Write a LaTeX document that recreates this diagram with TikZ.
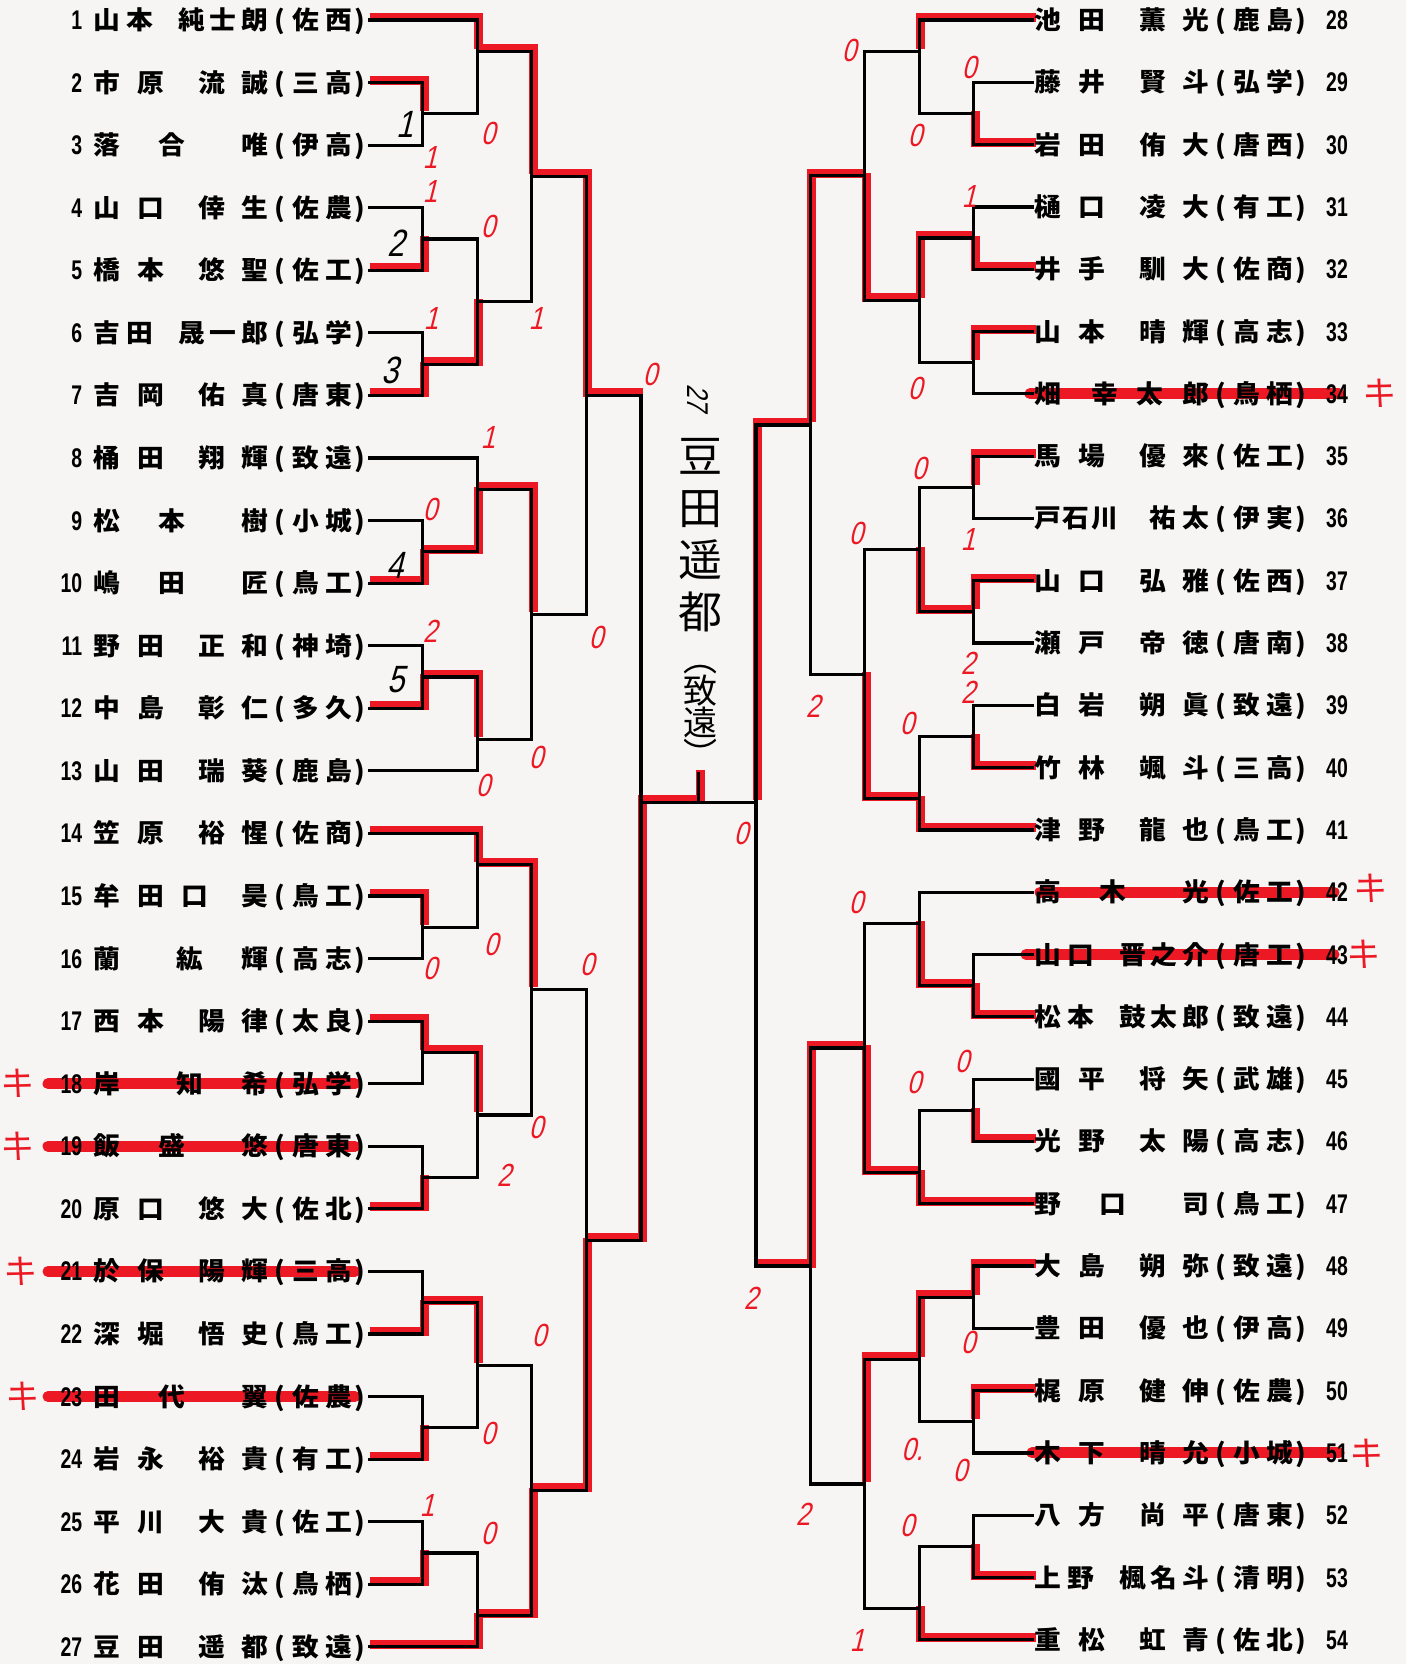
\documentclass[tikz,border=0pt]{standalone}
\usepackage{fontspec}
\newfontfamily\jp{Noto Sans CJK JP}[FakeStretch=1.05]
\newfontfamily\chiffre{Liberation Sans}[FakeStretch=0.72]
\newfontfamily\manus{Liberation Sans}[FakeSlant=0.25,FakeStretch=0.8]
\newfontfamily\manusjp{Noto Sans CJK JP}
\definecolor{feutre}{RGB}{236,24,36}
\definecolor{papier}{RGB}{246,245,243}
\pgfdeclarelayer{dessous}
\pgfdeclarelayer{surligne}
\pgfsetlayers{dessous,surligne,main}
% caracteres etales dans une boite
\def\etale#1{\etaleA#1\relax}
\def\etaleA#1{#1\etaleB}
\def\etaleB#1{\ifx\relax#1\else\hfil#1\expandafter\etaleB\fi}
% nom, prenom, ecole
\newcommand\nm[5]{\makebox[175pt][s]{\makebox[#1pt][s]{\etale{#3}}\hfil\makebox[#2pt][s]{\etale{#4}}}\makebox[24pt]{(}\makebox[60pt][s]{\etale{#5}}\makebox[16pt]{)}}
\newcommand\nmBB{\nm{71}{70}}
\newcommand\nmBC{\nm{60}{90}}
\newcommand\nmBA{\nm{92}{27}}
\newcommand\nmAB{\nm{27}{92}}
\newcommand\nmCA{\nm{115}{27}}
\newcommand\nmAC{\nm{27}{118}}
\newcommand\nmCB{\nm{84}{60}}
\newcommand\numG[1]{\llap{\chiffre\bfseries\fontsize{27}{27}\selectfont#1\hspace{11pt}}}
\newcommand\numD[1]{\rlap{\hspace{17pt}\chiffre\bfseries\fontsize{27}{27}\selectfont#1}}
\begin{document}
\begin{tikzpicture}[x=1pt,y=-1pt]
% Styles
\tikzstyle{joueur}=[anchor=west,inner sep=0pt,font=\jp\bfseries\fontsize{25.5}{25.5}\selectfont,text height=22pt,text depth=3pt]
\tikzstyle{trait}=[draw=black,line width=3.2pt]
\tikzstyle{gagnant}=[draw=feutre,line width=9pt,transform canvas={xshift=1.5pt,yshift=2.5pt}]
\tikzstyle{rature}=[draw=feutre,line width=11pt,line cap=round]
\tikzstyle{score}=[text=feutre,inner sep=0pt,font=\manus\fontsize{32}{32}\selectfont]
\tikzstyle{tour}=[inner sep=0pt,font=\manus\fontsize{38}{38}\selectfont]
\tikzstyle{croix}=[text=feutre,inner sep=0pt,font=\manusjp\fontsize{34}{34}\selectfont,rotate=-8]
\tikzstyle{vainqueur}=[inner sep=0pt,align=center,font=\manusjp\fontsize{44}{52}\selectfont]
% Dimensions
\def\NomG{93}
\def\NomD{1034}
\def\XG#1{(368+(#1)*54.6)}
\def\XD#1{(1028-(#1)*54.4)}
\def\YG#1{(20+((#1)-1)*62.57)}
\def\YD#1{(20+((#1)-28)*62.3)}
\useasboundingbox (0,0) rectangle (1406,1664);
\begin{pgfonlayer}{dessous}
\fill[papier] (0,0) rectangle (1406,1664);
\end{pgfonlayer}
% Joueurs gauche
\node[joueur] (J1) at (\NomG,{\YG{1}}) {\numG{1}\nmBC{山本}{純士朗}{佐西}};
\node[joueur] (J2) at (\NomG,{\YG{2}}) {\numG{2}\nmBB{市原}{流誠}{三高}};
\node[joueur] (J3) at (\NomG,{\YG{3}}) {\numG{3}\nmBA{落合}{唯}{伊高}};
\node[joueur] (J4) at (\NomG,{\YG{4}}) {\numG{4}\nmBB{山口}{倖生}{佐農}};
\node[joueur] (J5) at (\NomG,{\YG{5}}) {\numG{5}\nmBB{橋本}{悠聖}{佐工}};
\node[joueur] (J6) at (\NomG,{\YG{6}}) {\numG{6}\nmBC{吉田}{晟一郎}{弘学}};
\node[joueur] (J7) at (\NomG,{\YG{7}}) {\numG{7}\nmBB{吉岡}{佑真}{唐東}};
\node[joueur] (J8) at (\NomG,{\YG{8}}) {\numG{8}\nmBB{桶田}{翔輝}{致遠}};
\node[joueur] (J9) at (\NomG,{\YG{9}}) {\numG{9}\nmBA{松本}{樹}{小城}};
\node[joueur] (J10) at (\NomG,{\YG{10}}) {\numG{10}\nmBA{嶋田}{匠}{鳥工}};
\node[joueur] (J11) at (\NomG,{\YG{11}}) {\numG{11}\nmBB{野田}{正和}{神埼}};
\node[joueur] (J12) at (\NomG,{\YG{12}}) {\numG{12}\nmBB{中島}{彰仁}{多久}};
\node[joueur] (J13) at (\NomG,{\YG{13}}) {\numG{13}\nmBB{山田}{瑞葵}{鹿島}};
\node[joueur] (J14) at (\NomG,{\YG{14}}) {\numG{14}\nmBB{笠原}{裕惺}{佐商}};
\node[joueur] (J15) at (\NomG,{\YG{15}}) {\numG{15}\nmCA{牟田口}{昊}{鳥工}};
\node[joueur] (J16) at (\NomG,{\YG{16}}) {\numG{16}\nmAB{蘭}{紘輝}{高志}};
\node[joueur] (J17) at (\NomG,{\YG{17}}) {\numG{17}\nmBB{西本}{陽律}{太良}};
\node[joueur] (J18) at (\NomG,{\YG{18}}) {\numG{18}\nmAB{岸}{知希}{弘学}};
\node[joueur] (J19) at (\NomG,{\YG{19}}) {\numG{19}\nmBA{飯盛}{悠}{唐東}};
\node[joueur] (J20) at (\NomG,{\YG{20}}) {\numG{20}\nmBB{原口}{悠大}{佐北}};
\node[joueur] (J21) at (\NomG,{\YG{21}}) {\numG{21}\nmBB{於保}{陽輝}{三高}};
\node[joueur] (J22) at (\NomG,{\YG{22}}) {\numG{22}\nmBB{深堀}{悟史}{鳥工}};
\node[joueur] (J23) at (\NomG,{\YG{23}}) {\numG{23}\nmBA{田代}{翼}{佐農}};
\node[joueur] (J24) at (\NomG,{\YG{24}}) {\numG{24}\nmBB{岩永}{裕貴}{有工}};
\node[joueur] (J25) at (\NomG,{\YG{25}}) {\numG{25}\nmBB{平川}{大貴}{佐工}};
\node[joueur] (J26) at (\NomG,{\YG{26}}) {\numG{26}\nmBB{花田}{侑汰}{鳥栖}};
\node[joueur] (J27) at (\NomG,{\YG{27}}) {\numG{27}\nmBB{豆田}{遥都}{致遠}};
% Joueurs droite
\node[joueur] (J28) at (\NomD,{\YD{28}}) {\nmBB{池田}{薫光}{鹿島}\numD{28}};
\node[joueur] (J29) at (\NomD,{\YD{29}}) {\nmBB{藤井}{賢斗}{弘学}\numD{29}};
\node[joueur] (J30) at (\NomD,{\YD{30}}) {\nmBB{岩田}{侑大}{唐西}\numD{30}};
\node[joueur] (J31) at (\NomD,{\YD{31}}) {\nmBB{樋口}{凌大}{有工}\numD{31}};
\node[joueur] (J32) at (\NomD,{\YD{32}}) {\nmBB{井手}{馴大}{佐商}\numD{32}};
\node[joueur] (J33) at (\NomD,{\YD{33}}) {\nmBB{山本}{晴輝}{高志}\numD{33}};
\node[joueur] (J34) at (\NomD,{\YD{34}}) {\nmAC{畑}{幸太郎}{鳥栖}\numD{34}};
\node[joueur] (J35) at (\NomD,{\YD{35}}) {\nmBB{馬場}{優來}{佐工}\numD{35}};
\node[joueur] (J36) at (\NomD,{\YD{36}}) {\nmCB{戸石川}{祐太}{伊実}\numD{36}};
\node[joueur] (J37) at (\NomD,{\YD{37}}) {\nmBB{山口}{弘雅}{佐西}\numD{37}};
\node[joueur] (J38) at (\NomD,{\YD{38}}) {\nmBB{瀬戸}{帝徳}{唐南}\numD{38}};
\node[joueur] (J39) at (\NomD,{\YD{39}}) {\nmBB{白岩}{朔眞}{致遠}\numD{39}};
\node[joueur] (J40) at (\NomD,{\YD{40}}) {\nmBB{竹林}{颯斗}{三高}\numD{40}};
\node[joueur] (J41) at (\NomD,{\YD{41}}) {\nmBB{津野}{龍也}{鳥工}\numD{41}};
\node[joueur] (J42) at (\NomD,{\YD{42}}) {\nmBA{高木}{光}{佐工}\numD{42}};
\node[joueur] (J43) at (\NomD,{\YD{43}}) {\nmBC{山口}{晋之介}{唐工}\numD{43}};
\node[joueur] (J44) at (\NomD,{\YD{44}}) {\nmBC{松本}{鼓太郎}{致遠}\numD{44}};
\node[joueur] (J45) at (\NomD,{\YD{45}}) {\nmBB{國平}{将矢}{武雄}\numD{45}};
\node[joueur] (J46) at (\NomD,{\YD{46}}) {\nmBB{光野}{太陽}{高志}\numD{46}};
\node[joueur] (J47) at (\NomD,{\YD{47}}) {\nmBA{野口}{司}{鳥工}\numD{47}};
\node[joueur] (J48) at (\NomD,{\YD{48}}) {\nmBB{大島}{朔弥}{致遠}\numD{48}};
\node[joueur] (J49) at (\NomD,{\YD{49}}) {\nmBB{豊田}{優也}{伊高}\numD{49}};
\node[joueur] (J50) at (\NomD,{\YD{50}}) {\nmBB{梶原}{健伸}{佐農}\numD{50}};
\node[joueur] (J51) at (\NomD,{\YD{51}}) {\nmBB{木下}{晴允}{小城}\numD{51}};
\node[joueur] (J52) at (\NomD,{\YD{52}}) {\nmBB{八方}{尚平}{唐東}\numD{52}};
\node[joueur] (J53) at (\NomD,{\YD{53}}) {\nmBC{上野}{楓名斗}{清明}\numD{53}};
\node[joueur] (J54) at (\NomD,{\YD{54}}) {\nmBB{重松}{虹青}{佐北}\numD{54}};
% Rencontres gauche
\coordinate (A1) at ({\XG{1}},{\YG{2.5}});
\coordinate (A2) at ({\XG{2}},{\YG{1.5}});
\coordinate (A3) at ({\XG{1}},{\YG{4.5}});
\coordinate (A4) at ({\XG{1}},{\YG{6.5}});
\coordinate (A5) at ({\XG{2}},{\YG{5.5}});
\coordinate (A6) at ({\XG{3}},{\YG{3.5}});
\coordinate (A7) at ({\XG{1}},{\YG{9.5}});
\coordinate (A8) at ({\XG{2}},{\YG{8.5}});
\coordinate (A9) at ({\XG{1}},{\YG{11.5}});
\coordinate (A10) at ({\XG{2}},{\YG{12.5}});
\coordinate (A11) at ({\XG{3}},{\YG{10.5}});
\coordinate (A12) at ({\XG{4}},{\YG{7}});
\coordinate (B1) at ({\XG{1}},{\YG{15.5}});
\coordinate (B2) at ({\XG{2}},{\YG{14.5}});
\coordinate (B3) at ({\XG{1}},{\YG{17.5}});
\coordinate (B4) at ({\XG{1}},{\YG{19.5}});
\coordinate (B5) at ({\XG{2}},{\YG{18.5}});
\coordinate (B6) at ({\XG{3}},{\YG{16.5}});
\coordinate (B7) at ({\XG{1}},{\YG{21.5}});
\coordinate (B8) at ({\XG{1}},{\YG{23.5}});
\coordinate (B9) at ({\XG{2}},{\YG{22.5}});
\coordinate (B10) at ({\XG{1}},{\YG{25.5}});
\coordinate (B11) at ({\XG{2}},{\YG{26.5}});
\coordinate (B12) at ({\XG{3}},{\YG{24.5}});
\coordinate (B13) at ({\XG{4}},{\YG{20.5}});
% Rencontres droite
\coordinate (C1) at ({\XD{1}},{\YD{29.5}});
\coordinate (C2) at ({\XD{2}},{\YD{28.5}});
\coordinate (C3) at ({\XD{1}},{\YD{31.5}});
\coordinate (C4) at ({\XD{1}},{\YD{33.5}});
\coordinate (C5) at ({\XD{2}},{\YD{32.5}});
\coordinate (C6) at ({\XD{3}},{\YD{30.5}});
\coordinate (C7) at ({\XD{1}},{\YD{35.5}});
\coordinate (C8) at ({\XD{1}},{\YD{37.5}});
\coordinate (C9) at ({\XD{2}},{\YD{36.5}});
\coordinate (C10) at ({\XD{1}},{\YD{39.5}});
\coordinate (C11) at ({\XD{2}},{\YD{40.5}});
\coordinate (C12) at ({\XD{3}},{\YD{38.5}});
\coordinate (C13) at ({\XD{4}},{\YD{34.5}});
\coordinate (D1) at ({\XD{1}},{\YD{43.5}});
\coordinate (D2) at ({\XD{2}},{\YD{42.5}});
\coordinate (D3) at ({\XD{1}},{\YD{45.5}});
\coordinate (D4) at ({\XD{2}},{\YD{46.5}});
\coordinate (D5) at ({\XD{3}},{\YD{44.5}});
\coordinate (D6) at ({\XD{1}},{\YD{48.5}});
\coordinate (D7) at ({\XD{1}},{\YD{50.5}});
\coordinate (D8) at ({\XD{2}},{\YD{49.5}});
\coordinate (D9) at ({\XD{1}},{\YD{52.5}});
\coordinate (D10) at ({\XD{2}},{\YD{53.5}});
\coordinate (D11) at ({\XD{3}},{\YD{51.5}});
\coordinate (D12) at ({\XD{4}},{\YD{48}});
% Finale
\coordinate (FG) at ({\XG{5}},{\YG{13.5}});
\coordinate (FD) at ({\XD{5}},{\YG{13.5}});
\coordinate (V) at ({(\XG{5}+\XD{5})/2},{\YG{13.5}-30});
% Arcs gauche
\draw[trait] (J2.east) -| (A1) |- (J3.east);
\draw[trait] (J1.east) -| (A2) |- (A1);
\draw[trait] (J4.east) -| (A3) |- (J5.east);
\draw[trait] (J6.east) -| (A4) |- (J7.east);
\draw[trait] (A3) -| (A5) |- (A4);
\draw[trait] (A2) -| (A6) |- (A5);
\draw[trait] (J9.east) -| (A7) |- (J10.east);
\draw[trait] (J8.east) -| (A8) |- (A7);
\draw[trait] (J11.east) -| (A9) |- (J12.east);
\draw[trait] (A9) -| (A10) |- (J13.east);
\draw[trait] (A8) -| (A11) |- (A10);
\draw[trait] (A6) -| (A12) |- (A11);
\draw[trait] (J15.east) -| (B1) |- (J16.east);
\draw[trait] (J14.east) -| (B2) |- (B1);
\draw[trait] (J17.east) -| (B3) |- (J18.east);
\draw[trait] (J19.east) -| (B4) |- (J20.east);
\draw[trait] (B3) -| (B5) |- (B4);
\draw[trait] (B2) -| (B6) |- (B5);
\draw[trait] (J21.east) -| (B7) |- (J22.east);
\draw[trait] (J23.east) -| (B8) |- (J24.east);
\draw[trait] (B7) -| (B9) |- (B8);
\draw[trait] (J25.east) -| (B10) |- (J26.east);
\draw[trait] (B10) -| (B11) |- (J27.east);
\draw[trait] (B9) -| (B12) |- (B11);
\draw[trait] (B6) -| (B13) |- (B12);
% Arcs droite
\draw[trait] (J29.west) -| (C1) |- (J30.west);
\draw[trait] (J28.west) -| (C2) |- (C1);
\draw[trait] (J31.west) -| (C3) |- (J32.west);
\draw[trait] (J33.west) -| (C4) |- (J34.west);
\draw[trait] (C3) -| (C5) |- (C4);
\draw[trait] (C2) -| (C6) |- (C5);
\draw[trait] (J35.west) -| (C7) |- (J36.west);
\draw[trait] (J37.west) -| (C8) |- (J38.west);
\draw[trait] (C7) -| (C9) |- (C8);
\draw[trait] (J39.west) -| (C10) |- (J40.west);
\draw[trait] (C10) -| (C11) |- (J41.west);
\draw[trait] (C9) -| (C12) |- (C11);
\draw[trait] (C6) -| (C13) |- (C12);
\draw[trait] (J43.west) -| (D1) |- (J44.west);
\draw[trait] (J42.west) -| (D2) |- (D1);
\draw[trait] (J45.west) -| (D3) |- (J46.west);
\draw[trait] (D3) -| (D4) |- (J47.west);
\draw[trait] (D2) -| (D5) |- (D4);
\draw[trait] (J48.west) -| (D6) |- (J49.west);
\draw[trait] (J50.west) -| (D7) |- (J51.west);
\draw[trait] (D6) -| (D8) |- (D7);
\draw[trait] (J52.west) -| (D9) |- (J53.west);
\draw[trait] (D9) -| (D10) |- (J54.west);
\draw[trait] (D8) -| (D11) |- (D10);
\draw[trait] (D5) -| (D12) |- (D11);
% Arcs finale
\draw[trait] (A12) -| (FG) |- (B13);
\draw[trait] (C13) -| (FD) |- (D12);
\draw[trait] (FG) -- (FD);
\draw[trait] (FG -| V) -- (V);
% Surlignage des vainqueurs
\begin{pgfonlayer}{surligne}
\draw[gagnant] (J2.east) -| (A1);
\draw[gagnant] (J1.east) -| (A2);
\draw[gagnant] (J5.east) -| (A3);
\draw[gagnant] (J7.east) -| (A4);
\draw[gagnant] (A4) -| (A5);
\draw[gagnant] (A2) -| (A6);
\draw[gagnant] (J10.east) -| (A7);
\draw[gagnant] (A7) -| (A8);
\draw[gagnant] (J12.east) -| (A9);
\draw[gagnant] (A9) -| (A10);
\draw[gagnant] (A8) -| (A11);
\draw[gagnant] (A6) -| (A12) -- (A12 -| FG);
\draw[gagnant] (J15.east) -| (B1);
\draw[gagnant] (J14.east) -| (B2);
\draw[gagnant] (J17.east) -| (B3);
\draw[gagnant] (J20.east) -| (B4);
\draw[gagnant] (B3) -| (B5);
\draw[gagnant] (B2) -| (B6);
\draw[gagnant] (J22.east) -| (B7);
\draw[gagnant] (J24.east) -| (B8);
\draw[gagnant] (B7) -| (B9);
\draw[gagnant] (J26.east) -| (B10);
\draw[gagnant] (J27.east) -| (B11);
\draw[gagnant] (B11) -| (B12);
\draw[gagnant] (B12) -| (B13);
\draw[gagnant] (B13) -| (FG) -- (FG -| V) -- (V);
\draw[gagnant] (J30.west) -| (C1);
\draw[gagnant] (J28.west) -| (C2);
\draw[gagnant] (J32.west) -| (C3);
\draw[gagnant] (J33.west) -| (C4);
\draw[gagnant] (C3) -| (C5);
\draw[gagnant] (C5) -| (C6);
\draw[gagnant] (J35.west) -| (C7);
\draw[gagnant] (J37.west) -| (C8);
\draw[gagnant] (C8) -| (C9);
\draw[gagnant] (J40.west) -| (C10);
\draw[gagnant] (J41.west) -| (C11);
\draw[gagnant] (C11) -| (C12);
\draw[gagnant] (C6) -| (C13);
\draw[gagnant] (C13) -| (FD);
\draw[gagnant] (J44.west) -| (D1);
\draw[gagnant] (D1) -| (D2);
\draw[gagnant] (J46.west) -| (D3);
\draw[gagnant] (J47.west) -| (D4);
\draw[gagnant] (D4) -| (D5);
\draw[gagnant] (J48.west) -| (D6);
\draw[gagnant] (J50.west) -| (D7);
\draw[gagnant] (D6) -| (D8);
\draw[gagnant] (J53.west) -| (D9);
\draw[gagnant] (J54.west) -| (D10);
\draw[gagnant] (D8) -| (D11);
\draw[gagnant] (D5) -| (D12) -- (D12 -| FD);
% Forfaits
\draw[rature] ([xshift=-45pt]J18.west) -- ([xshift=262pt]J18.west);
\draw[rature] ([xshift=-45pt]J19.west) -- ([xshift=262pt]J19.west);
\draw[rature] ([xshift=-45pt]J21.west) -- ([xshift=262pt]J21.west);
\draw[rature] ([xshift=-45pt]J23.west) -- ([xshift=262pt]J23.west);
\draw[rature] ([xshift=-4pt]J34.west) -- ([xshift=305pt]J34.west);
\draw[rature] ([xshift=6pt]J42.west) -- ([xshift=300pt]J42.west);
\draw[rature] ([xshift=-8pt]J43.west) -- ([xshift=300pt]J43.west);
\draw[rature] ([xshift=-2pt]J51.west) -- ([xshift=305pt]J51.west);
\end{pgfonlayer}
\node[croix] (K1) at ([xshift=-75pt]J18.west) {キ};
\node[croix] (K2) at ([xshift=-75pt]J19.west) {キ};
\node[croix] (K3) at ([xshift=-72pt]J21.west) {キ};
\node[croix] (K4) at ([xshift=-70pt]J23.west) {キ};
\node[croix] (K5) at ([xshift=346pt]J34.west) {キ};
\node[croix] (K6) at ([xshift=337pt,yshift=4pt]J42.west) {キ};
\node[croix] (K7) at ([xshift=330pt]J43.west) {キ};
\node[croix] (K8) at ([xshift=333pt]J51.west) {キ};
% Numeros de rencontre
\node[tour] (N1) at (405,124) {1};
\node[tour] (N2) at (396,243) {2};
\node[tour] (N3) at (390,370) {3};
\node[tour] (N4) at (395,565) {4};
\node[tour] (N5) at (396,680) {5};
% Scores
\node[score] (S1) at (488,133) {0};
\node[score] (S2) at (430,157) {1};
\node[score] (S3) at (430,191) {1};
\node[score] (S4) at (488,226) {0};
\node[score] (S5) at (431,318) {1};
\node[score] (S6) at (536,318) {1};
\node[score] (S7) at (650,374) {0};
\node[score] (S8) at (488,437) {1};
\node[score] (S9) at (430,509) {0};
\node[score] (S10) at (430,631) {2};
\node[score] (S11) at (596,637) {0};
\node[score] (S12) at (536,757) {0};
\node[score] (S13) at (483,785) {0};
\node[score] (S14) at (430,968) {0};
\node[score] (S15) at (491,944) {0};
\node[score] (S16) at (587,964) {0};
\node[score] (S17) at (536,1127) {0};
\node[score] (S18) at (504,1175) {2};
\node[score] (S19) at (539,1335) {0};
\node[score] (S20) at (488,1433) {0};
\node[score] (S21) at (427,1505) {1};
\node[score] (S22) at (488,1533) {0};
\node[score] (S23) at (741,833) {0};
\node[score] (S24) at (751,1298) {2};
\node[score] (S25) at (849,50) {0};
\node[score] (S26) at (969,67) {0};
\node[score] (S27) at (915,135) {0};
\node[score] (S28) at (969,196) {1};
\node[score] (S29) at (915,388) {0};
\node[score] (S30) at (919,468) {0};
\node[score] (S31) at (856,533) {0};
\node[score] (S32) at (968,539) {1};
\node[score] (S33) at (968,663) {2};
\node[score] (S34) at (968,692) {2};
\node[score] (S35) at (813,706) {2};
\node[score] (S36) at (907,723) {0};
\node[score] (S37) at (856,902) {0};
\node[score] (S38) at (962,1061) {0};
\node[score] (S39) at (914,1082) {0};
\node[score] (S40) at (968,1342) {0};
\node[score] (S41) at (912,1449) {0.};
\node[score] (S42) at (960,1470) {0};
\node[score] (S43) at (803,1514) {2};
\node[score] (S44) at (907,1525) {0};
\node[score] (S45) at (857,1640) {1};
% Vainqueur
\node[vainqueur,font=\manus\fontsize{30}{30}\selectfont,rotate=-90] (NumV) at (698,398) {27};
\node[vainqueur] (NomV) at (700,535) {豆\\田\\遥\\都};
\node[vainqueur,font=\manusjp\fontsize{34}{32}\selectfont] (EcoleV) at (700,716) {︵\\致\\遠\\︶};
\end{tikzpicture}
\end{document}
